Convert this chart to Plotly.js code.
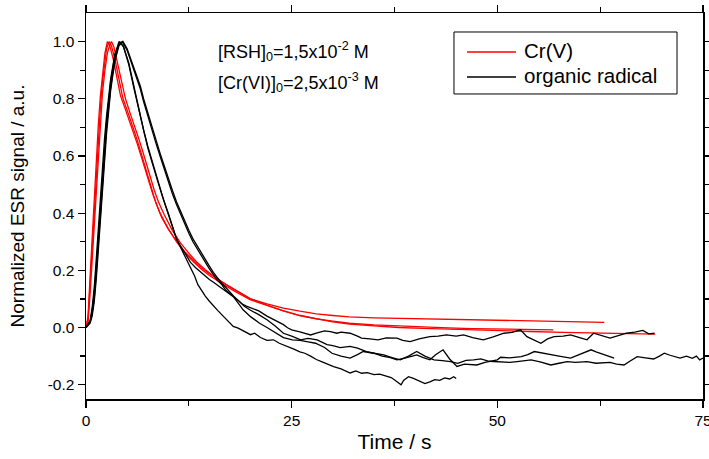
<!DOCTYPE html>
<html>
<head>
<meta charset="utf-8">
<script src="https://cdn.plot.ly/plotly-3.0.1.min.js"></script>
<style>html,body{margin:0;padding:0;background:#fff;}#chart{width:709px;height:459px;}</style>
</head>
<body>
<div id="chart"></div>
<script>
// ---- Data: [time (s), normalized signal] ----
const seriesNames = ["Cr(V)", "organic radical"];
const seriesColors = ["#ff0000", "#000000"];

const crV_1 = [[0,0],[0.25,0.04],[0.5,0.18],[0.75,0.32],[1,0.46],[1.25,0.59],[1.5,0.71],[1.75,0.81],[2,0.89],[2.3,0.96],[2.6,1.0],[2.9,0.985],[3.3,0.94],[3.7,0.88],[4.2,0.81],[4.7,0.77],[5.2,0.73],[5.7,0.69],[6.2,0.645],[6.7,0.6],[7.2,0.55],[7.7,0.505],[8.2,0.46],[8.7,0.42],[9.2,0.385],[10,0.345],[11,0.302],[12,0.265],[13,0.236],[14,0.21],[15,0.188],[16,0.168],[17,0.151],[18,0.134],[19,0.118],[20,0.1],[22,0.083],[24,0.068],[26,0.057],[28,0.048],[30,0.042],[32,0.037],[35,0.034],[38,0.032],[41,0.03],[44,0.028],[47,0.026],[50,0.025],[54,0.023],[58,0.021],[63,0.018]];

const crV_2 = [[0,0],[0.25,0.03],[0.5,0.15],[0.75,0.28],[1,0.41],[1.25,0.54],[1.5,0.66],[1.75,0.77],[2,0.86],[2.25,0.93],[2.5,0.975],[2.8,1.0],[3.1,0.985],[3.5,0.94],[4,0.87],[4.5,0.8],[5,0.76],[5.5,0.72],[6,0.675],[6.5,0.63],[7,0.58],[7.5,0.53],[8,0.48],[8.5,0.435],[9,0.4],[10,0.345],[11,0.3],[12,0.262],[13,0.232],[14,0.205],[15,0.182],[16,0.162],[17,0.145],[18,0.128],[19,0.112],[20,0.097],[22,0.077],[24,0.058],[26,0.042],[28,0.03],[30,0.022],[32,0.015],[35,0.009],[38,0.005],[41,0.002],[44,-0.001],[47,-0.004],[50,-0.005],[53,-0.007],[56.8,-0.008]];

const crV_3 = [[0,0],[0.25,0.02],[0.5,0.12],[0.75,0.24],[1,0.37],[1.25,0.5],[1.5,0.62],[1.75,0.73],[2,0.82],[2.3,0.9],[2.6,0.96],[2.9,0.99],[3.1,1.0],[3.4,0.98],[3.8,0.93],[4.3,0.86],[4.8,0.8],[5.3,0.755],[5.8,0.715],[6.3,0.67],[6.8,0.625],[7.3,0.575],[7.8,0.525],[8.3,0.48],[8.8,0.44],[9.5,0.395],[10.5,0.34],[11.5,0.295],[12.5,0.26],[13.5,0.228],[14.5,0.202],[15.5,0.18],[16.5,0.16],[17.5,0.142],[18.5,0.126],[20,0.1],[22,0.078],[24,0.058],[26,0.042],[28,0.03],[30,0.02],[32,0.012],[35,0.005],[38,0],[41,-0.003],[44,-0.006],[47,-0.009],[50,-0.011],[54,-0.014],[58,-0.017],[62,-0.019],[66,-0.021],[69.2,-0.023]];

const radical_A = [[0,0],[0.5,0.015],[0.75,0.04],[1,0.09],[1.25,0.17],[1.5,0.27],[1.75,0.38],[2,0.49],[2.25,0.59],[2.5,0.68],[3,0.83],[3.5,0.93],[4,0.985],[4.5,1.0],[5,0.975],[5.5,0.935],[6,0.895],[6.6,0.845],[7,0.8],[7.5,0.75],[8,0.705],[8.5,0.657],[9,0.61],[9.5,0.565],[10,0.52],[10.5,0.48],[11,0.44],[11.5,0.405],[12,0.372],[12.5,0.34],[13,0.31],[13.5,0.285],[14,0.265],[14.5,0.24],[15,0.215],[15.5,0.192],[16,0.172],[16.5,0.155],[17,0.14],[17.5,0.123],[18,0.108],[18.5,0.095],[19,0.082],[19.5,0.075],[20,0.07],[21,0.058],[22,0.04],[23,0.025],[24,0.01],[24.5,-0.001],[25,-0.008],[26,-0.015],[27,-0.022],[27.3,-0.026],[28,-0.02],[29,-0.012],[29.7,-0.014],[30.5,-0.02],[31,-0.016],[32.1,-0.02],[33,-0.03],[33.5,-0.037],[34.5,-0.04],[35.5,-0.043],[36.5,-0.036],[37.8,-0.037],[38.5,-0.045],[39.4,-0.049],[40.5,-0.04],[41.8,-0.032],[42.8,-0.03],[43.8,-0.026],[45,-0.03],[45.9,-0.026],[47,-0.035],[48.3,-0.043],[49.5,-0.033],[50.8,-0.02],[51.8,-0.017],[52.8,-0.008],[53.6,-0.032],[54.5,-0.045],[55.3,-0.055],[56.1,-0.04],[56.9,-0.032],[58,-0.03],[58.9,-0.026],[60,-0.035],[60.9,-0.043],[61.7,-0.02],[62.7,-0.028],[63.7,-0.037],[64.7,-0.028],[65.7,-0.02],[66.7,-0.016],[67.7,-0.01],[68.4,-0.022],[69.1,-0.02]];

const radical_B = [[0,0],[0.5,0.02],[0.75,0.05],[1,0.1],[1.25,0.19],[1.5,0.29],[1.75,0.4],[2,0.51],[2.25,0.61],[2.5,0.7],[3,0.84],[3.5,0.94],[4,0.99],[4.4,1.0],[5,0.97],[5.5,0.93],[6,0.885],[6.6,0.835],[7,0.79],[7.5,0.74],[8,0.69],[8.5,0.645],[9,0.6],[9.5,0.555],[10,0.51],[10.5,0.468],[11,0.43],[11.5,0.395],[12,0.36],[12.5,0.33],[13,0.3],[13.5,0.275],[13.9,0.255],[14.5,0.23],[15,0.205],[15.5,0.185],[15.9,0.167],[16.5,0.15],[17,0.13],[17.9,0.109],[18.5,0.095],[19.2,0.075],[19.9,0.062],[21,0.045],[22,0.027],[23,0.005],[24,-0.02],[25,-0.03],[26.1,-0.043],[27,-0.038],[28.1,-0.043],[29.3,-0.06],[30,-0.063],[30.9,-0.07],[32.1,-0.066],[33,-0.072],[34.1,-0.084],[35,-0.09],[36,-0.1],[37,-0.105],[37.8,-0.113],[39,-0.105],[40.2,-0.096],[41,-0.105],[41.8,-0.113],[42.5,-0.095],[43.4,-0.078],[44.2,-0.11],[45.1,-0.136],[46,-0.128],[47.5,-0.131],[48.5,-0.122],[50,-0.113],[50.4,-0.104],[51.5,-0.106],[52.9,-0.102],[53.7,-0.095],[54.5,-0.084],[55.5,-0.09],[56.5,-0.096],[57.5,-0.1],[58.9,-0.107],[60,-0.095],[61.4,-0.078],[62,-0.085],[62.6,-0.09],[63.5,-0.1],[64.2,-0.107]];

const radical_C = [[0,0],[0.5,0.025],[0.75,0.07],[1,0.14],[1.25,0.24],[1.5,0.35],[1.75,0.46],[2,0.57],[2.25,0.66],[2.5,0.74],[3,0.87],[3.5,0.955],[4.1,1.0],[4.6,0.98],[5.2,0.92],[5.8,0.84],[6.5,0.75],[7,0.685],[7.5,0.63],[8,0.58],[8.5,0.53],[9,0.485],[9.5,0.44],[10,0.395],[10.5,0.35],[11,0.31],[11.5,0.285],[12,0.26],[12.7,0.228],[13.3,0.21],[14,0.192],[14.5,0.18],[15,0.168],[15.5,0.158],[16,0.148],[16.5,0.138],[17,0.128],[17.9,0.108],[18.5,0.085],[19.1,0.062],[20,0.038],[21.1,0.015],[22,0.0],[23.1,-0.02],[24,-0.035],[25.1,-0.043],[26,-0.045],[27,-0.05],[27.9,-0.055],[29,-0.07],[29.9,-0.09],[31,-0.1],[32.1,-0.107],[33,-0.095],[33.7,-0.084],[35,-0.09],[36.2,-0.096],[37.2,-0.105],[38.2,-0.113],[39.2,-0.1],[40.2,-0.084],[41.2,-0.1],[42.3,-0.113],[43.3,-0.116],[44.3,-0.119],[45.2,-0.125],[46.2,-0.115],[47.1,-0.113],[48,-0.11],[49,-0.118],[50.4,-0.119],[51.5,-0.122],[52.4,-0.119],[53.2,-0.115],[54.1,-0.113],[55.2,-0.12],[56.5,-0.131],[57.5,-0.125],[58.5,-0.119],[59.5,-0.122],[60.9,-0.119],[62,-0.125],[63.7,-0.122],[64.5,-0.128],[65.4,-0.131],[66.1,-0.118],[67,-0.102],[68,-0.106],[69,-0.11],[69.7,-0.1],[70.3,-0.09],[71,-0.097],[72.2,-0.107],[73,-0.1],[73.7,-0.108],[74.2,-0.1],[74.6,-0.113],[75,-0.107]];

const radical_D = [[0,0],[0.5,0.02],[0.75,0.06],[1,0.12],[1.25,0.21],[1.5,0.31],[1.75,0.42],[2,0.53],[2.25,0.63],[2.5,0.72],[3,0.86],[3.5,0.95],[4,1.0],[4.5,0.985],[5.2,0.925],[5.8,0.845],[6.5,0.755],[7,0.69],[7.5,0.635],[8,0.585],[8.5,0.535],[9,0.49],[9.4,0.45],[10,0.4],[10.5,0.355],[11,0.31],[11.5,0.28],[12,0.25],[12.7,0.214],[13.2,0.18],[13.6,0.15],[14,0.13],[14.5,0.11],[15,0.092],[15.5,0.074],[16,0.06],[16.5,0.045],[17,0.03],[17.9,0.004],[18.5,-0.002],[19.2,-0.012],[20,-0.025],[20.5,-0.02],[21.2,-0.035],[22,-0.045],[22.8,-0.043],[23.5,-0.055],[24.4,-0.067],[25.2,-0.075],[26,-0.085],[26.6,-0.09],[27.3,-0.1],[28,-0.112],[28.7,-0.12],[29.5,-0.13],[30.1,-0.137],[31,-0.145],[32.1,-0.159],[32.8,-0.152],[33.5,-0.16],[34.2,-0.158],[35,-0.165],[35.7,-0.163],[36.4,-0.17],[37.1,-0.175],[37.6,-0.185],[38,-0.193],[38.3,-0.2],[38.6,-0.185],[39.2,-0.172],[39.8,-0.178],[40.5,-0.188],[41.2,-0.196],[41.8,-0.19],[42.4,-0.182],[43,-0.185],[43.6,-0.176],[44.2,-0.18],[44.7,-0.172],[45,-0.178]];

const xTickVals = [0, 25, 50, 75];
const xMinorVals = [12.5, 37.5, 62.5];
const yTickVals = [-0.2, 0, 0.2, 0.4, 0.6, 0.8, 1.0];
const yTickText = ["-0.2", "0.0", "0.2", "0.4", "0.6", "0.8", "1.0"];
const yMinorVals = [-0.1, 0.1, 0.3, 0.5, 0.7, 0.9];

const annotationLines = [
  "[RSH]<sub>0</sub>=1,5x10<sup>-2</sup> M",
  "[Cr(VI)]<sub>0</sub>=2,5x10<sup>-3</sup> M"
];

// ---- Build traces ----
const FONT = "Liberation Sans, Arial, sans-serif";
function mk(data, color, name) {
  return {
    x: data.map(p => p[0]), y: data.map(p => p[1]),
    type: "scatter", mode: "lines",
    line: {color: color, width: 1.3},
    name: name, showlegend: false
  };
}
const traces = [
  mk(crV_1, seriesColors[0], seriesNames[0]),
  mk(crV_2, seriesColors[0], seriesNames[0]),
  mk(crV_3, seriesColors[0], seriesNames[0]),
  mk(radical_A, seriesColors[1], seriesNames[1]),
  mk(radical_B, seriesColors[1], seriesNames[1]),
  mk(radical_C, seriesColors[1], seriesNames[1]),
  mk(radical_D, seriesColors[1], seriesNames[1])
];

const axisCommon = {
  showgrid: false, zeroline: false, showline: true, linecolor: "#000", linewidth: 1.5,
  mirror: "ticks", ticks: "outside", ticklen: 7, tickwidth: 1.3, tickcolor: "#000",
  ticklabeloverflow: "allow",
  tickfont: {family: FONT, size: 15.5, color: "#000"}
};

// Legend box drawn in paper coordinates
const legBox = {x0: 0.5964, x1: 0.9579, y0: 0.7902, y1: 0.9508};
const legRowsY = [0.899, 0.8342];
const legLineX = [0.6175, 0.6969];
const legTextX = 0.7066;

const shapes = [
  {type: "rect", xref: "paper", yref: "paper", x0: legBox.x0, x1: legBox.x1, y0: legBox.y0, y1: legBox.y1,
   line: {color: "#000", width: 1}, fillcolor: "#fff", layer: "above"}
];
seriesNames.forEach((n, i) => shapes.push({
  type: "line", xref: "paper", yref: "paper", x0: legLineX[0], x1: legLineX[1], y0: legRowsY[i], y1: legRowsY[i],
  line: {color: seriesColors[i], width: 1.3}, layer: "above"
}));

const annotations = annotationLines.map((t, i) => ({
  text: t, xref: "paper", yref: "paper",
  x: 0.211, y: i === 0 ? 0.899 : 0.819,
  xanchor: "left", yanchor: "middle", showarrow: false,
  font: {family: FONT, size: 18, color: "#000"}
}));
seriesNames.forEach((n, i) => annotations.push({
  text: n, xref: "paper", yref: "paper", x: legTextX, y: legRowsY[i] + 0.004,
  xanchor: "left", yanchor: "middle", showarrow: false,
  font: {family: FONT, size: 20.5, color: "#000"}
}));

const layout = {
  width: 709, height: 459,
  margin: {l: 86, r: 6, t: 13, b: 60},
  paper_bgcolor: "#fff", plot_bgcolor: "#fff",
  font: {family: FONT, color: "#000"},
  showlegend: false,
  xaxis: Object.assign({}, axisCommon, {
    range: [0, 75], tickmode: "array", tickvals: xTickVals,
    minor: {tickmode: "array", tickvals: xMinorVals, ticks: "outside", ticklen: 5, tickwidth: 1.3, tickcolor: "#000"},
    title: {text: "Time / s", font: {family: FONT, size: 21, color: "#000"}, standoff: 6}
  }),
  yaxis: Object.assign({}, axisCommon, {
    range: [-0.25, 1.1], tickmode: "array", tickvals: yTickVals, ticktext: yTickText,
    minor: {tickmode: "array", tickvals: yMinorVals, ticks: "outside", ticklen: 5, tickwidth: 1.3, tickcolor: "#000"},
    title: {text: "Normalized ESR signal / a.u.", font: {family: FONT, size: 19, color: "#000"}, standoff: 18}
  }),
  shapes: shapes,
  annotations: annotations
};

Plotly.newPlot("chart", traces, layout, {displayModeBar: false, staticPlot: true});
</script>
</body>
</html>
